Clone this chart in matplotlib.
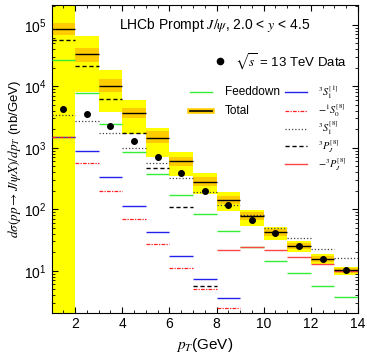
import numpy as np
import matplotlib
matplotlib.use("Agg")
import matplotlib.pyplot as plt
from matplotlib.ticker import LogLocator, MultipleLocator, NullFormatter

plt.rcParams['font.family'] = ['Liberation Sans', 'DejaVu Sans']
plt.rcParams['mathtext.fontset'] = 'stix'

# pT bins (GeV)
bin_lo = np.arange(1, 14)
bin_hi = bin_lo + 1
bin_mid = bin_lo + 0.5

# theory uncertainty bands (nb/GeV)
yellow_lo = [1.0, 8.2e3, 3.8e3, 1.69e3, 722, 351, 179, 95.5, 54, 31.9, 20.6, 12.8, 8.4]
yellow_hi = [1e7, 6.6e4, 1.85e4, 5.9e3, 2.09e3, 871, 388, 189, 98, 52.5, 30.8, 18.9, 11.6]
orange_lo = [6.9e4, 2.53e4, 8.2e3, 3.04e3, 1.19e3, 497, 235, 123, 66, 37, 22.8, 14.0, 9.3]
orange_hi = [1.08e5, 4.2e4, 1.31e4, 4.4e3, 1.89e3, 722, 341, 166, 89, 48, 28.0, 17.2, 11.0]

# central predictions (nan = not shown / negative)
total = [8.5e4, 3.34e4, 1.03e4, 3.66e3, 1.44e3, 608, 277, 140, 77, 43.5, 25.8, 15.7, 10.4]
feeddown = [2.63e4, 7.7e3, 2.43e3, 871, 373, 170, 84.6, 45, 24.8, 14.7, 9.3, 5.56, 3.73]
s1_singlet = [1.49e3, 904, 341, 115, 43, 17.5, 7.4, 3.6, np.nan, np.nan, np.nan, np.nan, np.nan]
s0_octet_neg = [1.49e3, 577, 200, 69, 27, 11.1, 5.1, 2.47, np.nan, np.nan, np.nan, np.nan, np.nan]
s1_octet = [3.44e3, 2.78e3, 1.73e3, 989, 564, 329, 190, 118, 80, 49.5, 34, 22.8, 16.4]
pj_octet = [5.56e4, 2.18e4, 6.3e3, 1.73e3, 468, 111, 5.6, np.nan, np.nan, np.nan, np.nan, np.nan, np.nan]
pj_octet_neg = [np.nan, np.nan, np.nan, np.nan, np.nan, np.nan, np.nan, 21.4, 24.3, 21.4, 17, 12.8, 10.0]

# LHCb 13 TeV data
data_y = [4.3e3, 3.6e3, 2.28e3, 1.3e3, 722, 388, 202, 117, 68, 41, 25.8, 15.7, 10.4]

fig = plt.figure(figsize=(3.67, 3.55), dpi=100)
ax = fig.add_axes([51.5 / 367, (355 - 312.5) / 355, 306.5 / 367, 307.5 / 355])

for lo, hi, yl, yh, ol, oh in zip(bin_lo, bin_hi, yellow_lo, yellow_hi, orange_lo, orange_hi):
    ax.fill_between([lo, hi], yl, yh, color='#FFFF00', lw=0, zorder=1)
    ax.fill_between([lo, hi], ol, oh, color='#FFCC00', lw=0, zorder=2)

styles = [
    (feeddown, dict(color='#33EE33', lw=1.0, ls='-')),
    (s1_singlet, dict(color='#2222EE', lw=1.0, ls='-')),
    (s0_octet_neg, dict(color='#FF2020', lw=0.9, ls=(0, (3, 1, 1, 1)))),
    (s1_octet, dict(color='#444444', lw=0.9, ls=(0, (1, 1.6)))),
    (pj_octet, dict(color='black', lw=1.0, ls=(0, (3, 2)))),
    (pj_octet_neg, dict(color='#FF4444', lw=1.0, ls='-')),
    (total, dict(color='black', lw=1.0, ls='-')),
]
for vals, st in styles:
    ax.hlines(vals, bin_lo, bin_hi, zorder=3, **st)

ax.plot(bin_mid, data_y, 'o', color='black', ms=4, zorder=5)

ax.set_yscale('log')
ax.set_xlim(1, 14)
ax.set_ylim(2.1, 2.1e5)
ax.xaxis.set_major_locator(MultipleLocator(2))
ax.xaxis.set_minor_locator(MultipleLocator(0.5))
ax.yaxis.set_major_locator(LogLocator(base=10, numticks=10))
ax.yaxis.set_minor_locator(LogLocator(base=10, subs=np.arange(2, 10), numticks=20))
ax.yaxis.set_minor_formatter(NullFormatter())
ax.tick_params(which='both', direction='in', top=True, right=True, labelsize=10)
ax.tick_params(which='major', length=4)
ax.tick_params(which='minor', length=2)

ax.set_xlabel(r'$p_T$(GeV)', fontsize=11, labelpad=3)
ax.set_ylabel(r'$d\sigma(pp\rightarrow J/\psi X)/dp_T$ (nb/GeV)', fontsize=9.5, labelpad=1)

tr = ax.transAxes
ax.text(0.533, 0.935, r'LHCb Prompt $J/\psi$, 2.0 < $y$ < 4.5', transform=tr,
        ha='center', va='center', fontsize=10)
ax.plot([0.550], [0.817], 'o', color='black', ms=4.5, transform=tr, clip_on=False)
ax.text(0.599, 0.817, r'$\sqrt{s}$ = 13 TeV Data', transform=tr, ha='left', va='center', fontsize=9.5)

# legend keys
col1 = [(0.717, 'Feeddown', [styles[0][1]]),
        (0.655, 'Total', [dict(color='#FFCC00', lw=4, ls='-'), dict(color='black', lw=1.2, ls='-')])]
col2 = [(0.717, r'$^{3}S_{1}^{[1]}$', [styles[1][1]]),
        (0.655, r'$-{}^{1}S_{0}^{[8]}$', [styles[2][1]]),
        (0.598, r'$^{3}S_{1}^{[8]}$', [styles[3][1]]),
        (0.540, r'$^{3}P_{J}^{[8]}$', [styles[4][1]]),
        (0.482, r'$-{}^{3}P_{J}^{[8]}$', [styles[5][1]])]
for (x0, x1, xt, fs), col in [((0.452, 0.524, 0.566, 8.5), col1), ((0.762, 0.834, 0.869, 7.5), col2)]:
    for y, label, sts in col:
        for st in sts:
            ax.plot([x0, x1], [y, y], transform=tr, **st)
        ax.text(xt, y, label, transform=tr, ha='left', va='center', fontsize=fs)

fig.savefig('out.png', dpi=100)
